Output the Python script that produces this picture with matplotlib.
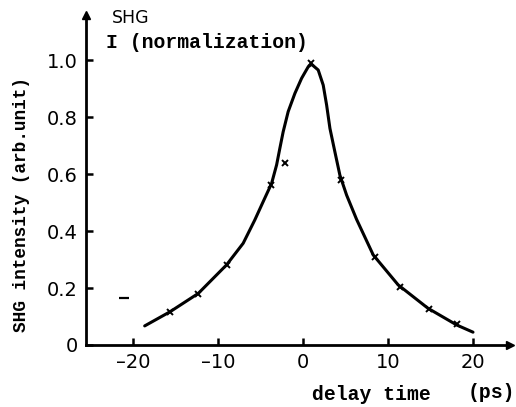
import matplotlib
matplotlib.use("Agg")
import matplotlib.pyplot as plt

# measured crosses (delay ps, normalized SHG)
pts_x = [-15.6, -12.3, -8.9, -3.8, -2.1, 1.0, 4.5, 8.5, 11.4, 14.8, 18.1]
pts_y = [0.115, 0.18, 0.28, 0.56, 0.64, 0.99, 0.58, 0.31, 0.205, 0.126, 0.072]

# fitted curve
curve_x = [-18.6, -15.6, -12.3, -8.98, -7.02, -5.65, -4.67, -3.68, -3.09, -2.71,
           -2.32, -1.73, -0.94, -0.15, 0.62, 1.02, 1.80, 2.39, 2.79, 3.18, 3.76,
           4.35, 5.14, 6.31, 8.27, 11.2, 14.7, 18.1, 20.0]
curve_y = [0.067, 0.117, 0.181, 0.281, 0.357, 0.439, 0.503, 0.567, 0.632, 0.690,
           0.748, 0.819, 0.883, 0.936, 0.976, 0.985, 0.965, 0.912, 0.842, 0.760,
           0.678, 0.596, 0.526, 0.441, 0.316, 0.211, 0.129, 0.070, 0.045]

stray_x = [-21.0]
stray_y = [0.165]

xticks = [-20, -10, 0, 10, 20]
yticks = [0, 0.2, 0.4, 0.6, 0.8, 1.0]
ytick_labels = ["0", "0.2", "0.4", "0.6", "0.8", "1.0"]

W, H = 516, 407
fig = plt.figure(figsize=(W / 100, H / 100), dpi=100)
x0, x1, yb, yt = 86, 510, 345, 15
ax = fig.add_axes([x0 / W, 1 - yb / H, (x1 - x0) / W, (yb - yt) / H])

ax.plot(curve_x, curve_y, color="black", lw=2.2, solid_capstyle="round",
        solid_joinstyle="round")
ax.plot(pts_x, pts_y, "x", color="black", ms=5, mew=1.4)
ax.plot(stray_x, stray_y, "_", color="black", ms=7, mew=1.6)

ax.set_xlim(-25.5, 24.35)
ax.set_ylim(0, 1.158)
ax.spines["top"].set_visible(False)
ax.spines["right"].set_visible(False)
for s in ("left", "bottom"):
    ax.spines[s].set_linewidth(2.0)

# arrow heads
ax.plot(1, 0, ">k", ms=6, transform=ax.transAxes, clip_on=False)
ax.plot(0, 1, "^k", ms=6, transform=ax.transAxes, clip_on=False)

tick_font = dict(family="DejaVu Sans", size=14)
ax.set_xticks(xticks)
ax.set_xticklabels([str(t).replace("-", "\u2013") for t in xticks], fontdict=tick_font)
ax.set_yticks(yticks)
ax.set_yticklabels(ytick_labels, fontdict=tick_font)
ax.tick_params(direction="in", length=5, width=1.8, pad=6)

mono = dict(family="Liberation Mono", weight="bold", color="black")
fig.text(112 / W, 1 - 18 / H, "SHG", fontsize=12.5, va="center", ha="left",
         family="DejaVu Sans", color="black")
fig.text(106 / W, 1 - 42 / H, "I (normalization)", fontsize=14.2, va="center", ha="left", **mono)
fig.text(22 / W, 1 - 205 / H, "SHG intensity (arb.unit)", fontsize=12.8, rotation=90,
         va="center", ha="center", **mono)
fig.text(312 / W, 1 - 394 / H, "delay time", fontsize=14.2, va="center", ha="left", **mono)
fig.text(468 / W, 1 - 392 / H, "(ps)", fontsize=14.2, va="center", ha="left", **mono)

fig.savefig("out.png", dpi=100)
